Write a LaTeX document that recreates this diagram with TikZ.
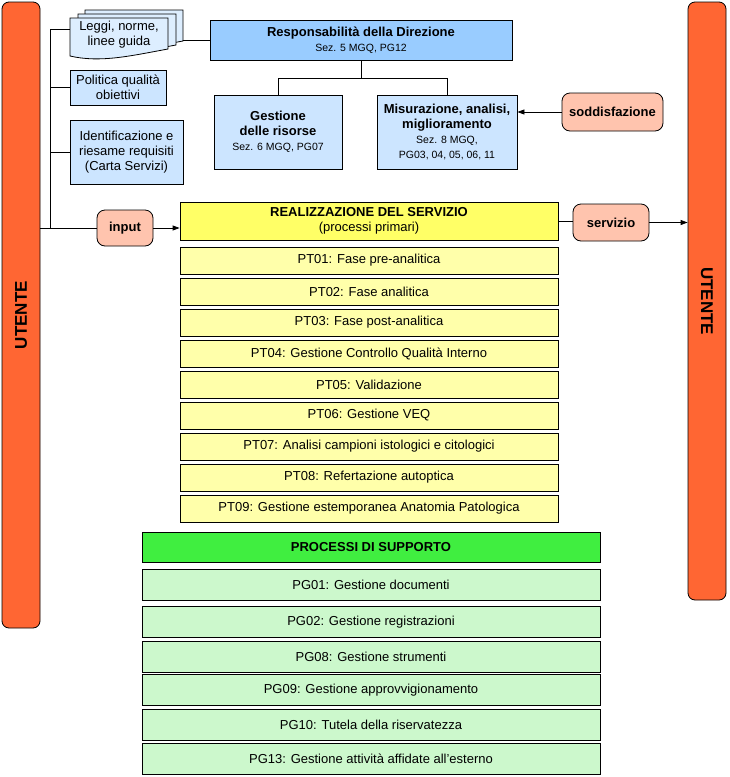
\documentclass[tikz,border=0pt]{standalone}
\usepackage{fontspec}
\setmainfont{Liberation Sans}
\usetikzlibrary{arrows.meta}
\definecolor{utorange}{HTML}{FF6633}
\definecolor{salmon}{HTML}{FFC4AE}
\definecolor{dirblue}{HTML}{99CCFF}
\definecolor{boxblue}{HTML}{CCE5FF}
\definecolor{pageblue}{HTML}{DDEEFF}
\definecolor{realyellow}{HTML}{FFFF66}
\definecolor{ptyellow}{HTML}{FFFFAA}
\definecolor{supgreen}{HTML}{40EE40}
\definecolor{pggreen}{HTML}{CCF8CC}
\newcommand{\sez}{\fontsize{10.5}{12.5}\selectfont}

\begin{document}
\begin{tikzpicture}[x=1pt,y=-1pt,line width=0.8pt,
  font=\fontsize{13}{15}\selectfont,
  utbar/.style={draw,fill=utorange,rounded corners=7pt,minimum width=38pt,font=\fontsize{17}{17}\selectfont\bfseries},
  docbox/.style={draw,fill=boxblue,align=center,inner sep=2pt},
  dirbox/.style={draw,fill=dirblue,align=center,minimum width=302pt,minimum height=40pt},
  page/.style={draw,fill=pageblue},
  flowbox/.style={draw,fill=salmon,rounded corners=8pt,inner sep=2pt,font=\fontsize{13}{15}\selectfont\bfseries},
  realbox/.style={draw,fill=realyellow,align=center,minimum width=378pt,minimum height=38pt},
  ptbox/.style={draw,fill=ptyellow,minimum width=378pt,minimum height=27pt},
  supbox/.style={draw,fill=supgreen,minimum width=458pt,minimum height=30pt,font=\fontsize{13}{15}\selectfont\bfseries},
  pgbox/.style={draw,fill=pggreen,minimum width=458pt,minimum height=31pt},
  arr/.style={-{Triangle[length=7pt,width=5pt]}}]
\useasboundingbox (0,0) rectangle (729,777);
% user bars
\node[utbar,minimum height=626pt] (utL) at (21,315) {\rotatebox{90}{UTENTE}};
\node[utbar,minimum height=598pt] (utR) at (707,301) {\rotatebox{-90}{UTENTE}};
% documents (stacked pages)
\draw[page,shift={(15,-8)}] (70,18) -- (168,18) -- (168,49) .. controls (130,56) and (100,63) .. (70,56) -- cycle;
\draw[page,shift={(8,-4)}] (70,18) -- (168,18) -- (168,49) .. controls (130,56) and (100,63) .. (70,56) -- cycle;
\draw[page] (70,18) -- (168,18) -- (168,49) .. controls (130,56) and (100,63) .. (70,56) -- cycle;
\node[align=center,minimum width=98pt,minimum height=34pt,inner sep=0pt] (leggi) at (119,35) {Leggi, norme,\\linee guida};
\node[docbox,minimum width=96pt,minimum height=35pt] (pol) at (118,87.5) {Politica qualità\\obiettivi};
\node[docbox,minimum width=113pt,minimum height=64pt] (ide) at (126.5,152) {Identificazione e\\riesame requisiti\\(Carta Servizi)};
% direction
\node[dirbox] (resp) at (361,40) {\textbf{Responsabilità della Direzione}\\{\sez Sez. 5 MGQ, PG12}};
\node[docbox,minimum width=128pt,minimum height=74pt] (gest) at (278,132) {\textbf{Gestione}\\\textbf{delle risorse}\\{\sez Sez. 6 MGQ, PG07}};
\node[docbox,minimum width=140pt,minimum height=74pt] (mis) at (447,132) {\textbf{Misurazione, analisi,}\\\textbf{miglioramento}\\{\sez Sez. 8 MGQ,}\\{\sez PG03, 04, 05, 06, 11}};
\node[flowbox,minimum width=101pt,minimum height=38pt] (sod) at (612.5,112) {soddisfazione};
% service
\node[flowbox,minimum width=56pt,minimum height=36pt] (inp) at (125,228) {input};
\node[realbox] (real) at (369,221) {\textbf{REALIZZAZIONE DEL SERVIZIO}\\(processi primari)};
\node[flowbox,minimum width=76pt,minimum height=37pt] (serv) at (611,222.5) {servizio};
% primary processes
\node[ptbox] (pt1) at (369,260.5) {PT01: Fase pre-analitica};
\node[ptbox] (pt2) at (369,291.5) {PT02: Fase analitica};
\node[ptbox] (pt3) at (369,322.5) {PT03: Fase post-analitica};
\node[ptbox] (pt4) at (369,353.5) {PT04: Gestione Controllo Qualità Interno};
\node[ptbox] (pt5) at (369,384.5) {PT05: Validazione};
\node[ptbox] (pt6) at (369,415.5) {PT06: Gestione VEQ};
\node[ptbox] (pt7) at (369,446.5) {PT07: Analisi campioni istologici e citologici};
\node[ptbox] (pt8) at (369,477.5) {PT08: Refertazione autoptica};
\node[ptbox] (pt9) at (369,508.5) {PT09: Gestione estemporanea Anatomia Patologica};
% support processes
\node[supbox] (sup) at (371,547) {PROCESSI DI SUPPORTO};
\node[pgbox] (pg1) at (371,584.5) {PG01: Gestione documenti};
\node[pgbox] (pg2) at (371,622) {PG02: Gestione registrazioni};
\node[pgbox] (pg8) at (371,656.5) {PG08: Gestione strumenti};
\node[pgbox] (pg9) at (371,690) {PG09: Gestione approvvigionamento};
\node[pgbox] (pg10) at (371,724.5) {PG10: Tutela della riservatezza};
\node[pgbox] (pg13) at (371,758.5) {PG13: Gestione attività affidate all'esterno};
% inputs from user
\coordinate (jtop) at (50,29);
\draw (jtop) -- (jtop -| leggi.west);
\draw (jtop) -- (jtop |- inp.west);
\draw (jtop |- pol.west) -- (pol.west);
\draw (jtop |- ide.west) -- (ide.west);
\draw (utL.east |- inp.west) -- (inp.west);
\draw[arr] (inp.east) -- (inp.east -| real.west);
% direction links
\draw (resp.west) -- ++(-27,0);
\draw (resp.south) -- ++(0,18) coordinate (split);
\draw (split) -| (gest.north);
\draw (split) -| (mis.north);
\draw[arr] (sod.west) -- (sod.west -| mis.east);
% output
\draw (real.east) -- (real.east -| serv.west);
\draw[arr] (serv.east) -- (serv.east -| utR.west);
\end{tikzpicture}
\end{document}
